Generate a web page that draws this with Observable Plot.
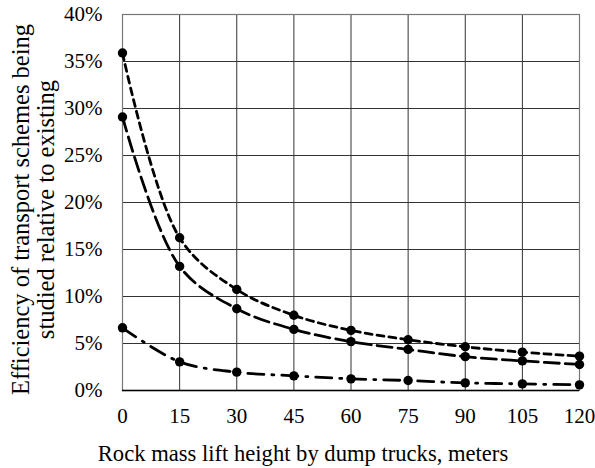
<!DOCTYPE html>
<html>
<head>
<meta charset="utf-8">
<script src="https://cdn.jsdelivr.net/npm/d3@7"></script>
<script src="https://cdn.jsdelivr.net/npm/@observablehq/plot@0.6"></script>
<style>
  html, body { margin: 0; padding: 0; background: #fff; }
  #chart svg { display: block; }
  #chart svg text { font-family: "Liberation Serif", "Times New Roman", serif; }
</style>
</head>
<body>
<div id="chart"></div>
<script>
const heights = [0, 15, 30, 45, 60, 75, 90, 105, 120];
const seriesShortDash = [35.9, 16.25, 10.75, 8.0, 6.4, 5.4, 4.65, 4.08, 3.65];
const seriesLongDash = [29.1, 13.2, 8.7, 6.5, 5.2, 4.37, 3.6, 3.15, 2.77];
const seriesDashDot = [6.67, 3.05, 1.95, 1.56, 1.24, 1.06, 0.81, 0.7, 0.6];
const xTicks = [0, 15, 30, 45, 60, 75, 90, 105, 120];
const yTicks = [0, 5, 10, 15, 20, 25, 30, 35, 40];
const xTitle = "Rock mass lift height by dump trucks, meters";
const yTitle = "Efficiency of transport schemes being\nstudied relative to existing";

const toRows = (vals) => heights.map((h, i) => ({x: h, y: vals[i]}));
const A = toRows(seriesShortDash);
const B = toRows(seriesLongDash);
const C = toRows(seriesDashDot);

const font = "'Liberation Serif', 'Times New Roman', serif";

const chart = Plot.plot({
  width: 595,
  height: 468,
  marginLeft: 122,
  marginRight: 16,
  marginTop: 14,
  marginBottom: 78,
  style: {fontFamily: font, fontSize: "21px", color: "#000", background: "#fff"},
  x: {domain: [0, 120], label: null},
  y: {domain: [0, 40], label: null},
  marks: [
    Plot.gridX(xTicks, {stroke: "#333", strokeOpacity: 1, strokeWidth: 1}),
    Plot.gridY(yTicks, {stroke: "#333", strokeOpacity: 1, strokeWidth: 1}),
    Plot.frame({stroke: "#777", strokeWidth: 1.2}),
    Plot.ruleY([0], {stroke: "#000", strokeWidth: 1.5}),
    Plot.axisX({ticks: xTicks, tickSize: 0, tickPadding: 18, fontSize: 21, fontFamily: font, fill: "#000", label: null}),
    Plot.axisY({ticks: yTicks, tickSize: 0, tickPadding: 20, fontSize: 21, fontFamily: font, fill: "#000", label: null, tickFormat: d => d + "%"}),
    Plot.line(A, {x: "x", y: "y", curve: "catmull-rom", stroke: "#000", strokeWidth: 2.8, strokeDasharray: "7,5"}),
    Plot.line(B, {x: "x", y: "y", curve: "catmull-rom", stroke: "#000", strokeWidth: 2.8, strokeDasharray: "15,6"}),
    Plot.line(C, {x: "x", y: "y", curve: "catmull-rom", stroke: "#000", strokeWidth: 2.8, strokeDasharray: "16,8,2,8"}),
    Plot.dot(A, {x: "x", y: "y", r: 4.7, fill: "#000"}),
    Plot.dot(B, {x: "x", y: "y", r: 4.7, fill: "#000"}),
    Plot.dot(C, {x: "x", y: "y", r: 4.7, fill: "#000"}),
    Plot.text([xTitle], {frameAnchor: "bottom", lineAnchor: "middle", dx: -48, dy: 63, fontSize: 22.6, fontFamily: font, fill: "#000"}),
    Plot.text([yTitle], {frameAnchor: "left", textAnchor: "middle", lineAnchor: "middle", dx: -89, dy: 7, rotate: -90, fontSize: 24.5, fontFamily: font, lineHeight: 1.0, fill: "#000"})
  ]
});
document.getElementById("chart").appendChild(chart);
</script>
</body>
</html>
